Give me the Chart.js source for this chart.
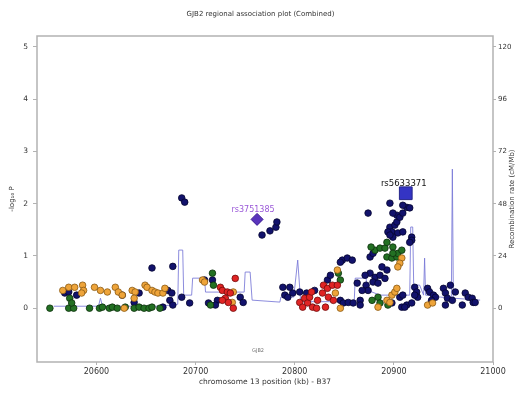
<!DOCTYPE html>
<html>
<head>
<meta charset="utf-8">
<script src="https://cdn.jsdelivr.net/npm/chart.js@4.4.0/dist/chart.umd.min.js"></script>
<style>
  html, body { margin: 0; padding: 0; background: #fff; }
  #wrap { width: 521px; height: 394px; }
</style>
</head>
<body>
<div id="wrap"><canvas id="assoc_plot" width="521" height="394"></canvas></div>
<script>
// positions in kb (chr13, B37), values are -log10 P
var navyPos = [20568, 20572, 20580, 20626, 20638, 20643, 20656, 20677, 20672, 20676, 20674, 20667, 20677, 20686, 20694,
    20686, 20689, 20709, 20717, 20722, 20713, 20720, 20745, 20748, 20767, 20775, 20781, 20782,
    20788, 20795, 20790, 20793, 20798, 20805, 20812, 20820, 20833, 20836, 20848, 20853, 20858, 20846,
    20846, 20849, 20854, 20859, 20866, 20866, 20874, 20876, 20879, 20876, 20881, 20886, 20879, 20884,
    20891, 20893, 20888, 20872, 20874, 20863, 20868, 20871, 20898, 20906, 20909, 20913, 20918, 20908, 20911,
    20896, 20898, 20894, 20901, 20903, 20904, 20899, 20909, 20896, 20903, 20906, 20896, 20899, 20909,
    20913, 20916, 20909, 20918, 20918, 20916, 20921, 20923, 20924, 20921, 20934, 20936, 20940, 20942,
    20938, 20950, 20952, 20957, 20954, 20959, 20962, 20952, 20969, 20972, 20975, 20979, 20980, 20982];
var navyP = [0.29, 0.31, 0.25, 0.25, 0.11, 0.29, 0.77, 0.80, 0.34, 0.29, 0.15, 0.02, 0.06, 0.21, 0.10,
    2.11, 2.03, 0.54, 0.54, 0.15, 0.10, 0.06, 0.21, 0.11, 1.40, 1.48, 1.55, 1.65,
    0.40, 0.40, 0.25, 0.21, 0.29, 0.31, 0.29, 0.34, 0.54, 0.63, 0.92, 0.96, 0.92, 0.88,
    0.15, 0.10, 0.11, 0.10, 0.15, 0.06, 1.82, 0.98, 1.05, 0.67, 0.59, 0.63, 0.50, 0.48,
    0.57, 0.73, 0.79, 0.44, 0.34, 0.48, 0.34, 0.63, 0.10, 0.21, 0.25, 0.06, 0.10, 0.02, 0.02,
    1.55, 1.46, 1.46, 1.59, 1.65, 1.44, 1.36, 1.46, 1.40, 1.78, 1.74, 2.01, 1.82, 1.82,
    1.93, 1.92, 1.97, 1.36, 1.30, 1.26, 0.40, 0.31, 0.21, 0.25, 0.38, 0.31, 0.25, 0.21,
    0.15, 0.38, 0.29, 0.44, 0.19, 0.15, 0.31, 0.06, 0.06, 0.29, 0.21, 0.19, 0.11, 0.11];

var greenPos = [20553, 20572, 20577, 20593, 20603, 20606, 20613, 20616, 20621, 20629, 20638, 20643, 20648, 20653,
    20656, 20664, 20573, 20575, 20717, 20718, 20715, 20844, 20846, 20884, 20886, 20894, 20878,
    20881, 20886, 20891, 20893, 20899, 20893, 20898, 20903, 20904, 20908, 20899, 20877];
var greenP = [0.00, 0.00, 0.00, 0.00, 0.00, 0.02, 0.00, 0.02, 0.00, 0.02, 0.00, 0.02, 0.00, 0.00,
    0.02, 0.00, 0.19, 0.10, 0.67, 0.44, 0.06, 0.67, 0.54, 0.21, 0.10, 0.06, 0.15,
    1.11, 1.15, 1.15, 1.26, 1.17, 0.98, 0.96, 0.98, 1.05, 1.11, 1.05, 1.17];

var orangePos = [20566, 20572, 20578, 20586, 20587, 20585, 20598, 20604, 20611, 20619, 20622, 20626, 20636,
    20639, 20638, 20649, 20651, 20656, 20659, 20662, 20667, 20669, 20628, 20707, 20709, 20738, 20737,
    20843, 20846, 20841, 20884, 20893, 20896, 20898, 20901, 20903, 20908, 20906, 20904, 20934, 20939];
var orangeP = [0.34, 0.40, 0.40, 0.44, 0.34, 0.29, 0.40, 0.34, 0.31, 0.40, 0.31, 0.25, 0.34,
    0.31, 0.19, 0.44, 0.40, 0.34, 0.31, 0.29, 0.29, 0.38, 0.00, 0.54, 0.50, 0.31, 0.11,
    0.73, 0.00, 0.29, 0.02, 0.15, 0.11, 0.25, 0.31, 0.38, 0.96, 0.86, 0.79, 0.06, 0.10];

var redPos = [20725, 20727, 20732, 20735, 20730, 20733, 20727, 20738, 20740, 20805, 20808, 20810, 20813,
    20815, 20817, 20818, 20822, 20823, 20828, 20829, 20831, 20833, 20834, 20838, 20839, 20843];
var redP = [0.40, 0.34, 0.31, 0.29, 0.19, 0.11, 0.15, 0.00, 0.57, 0.11, 0.02, 0.19, 0.10,
    0.21, 0.31, 0.02, 0.00, 0.15, 0.29, 0.44, 0.02, 0.38, 0.21, 0.44, 0.15, 0.44];

// labelled SNPs
var leadSnp = ['rs3751385'];
var leadPos = [20762];
var leadP = [1.70];
var topSnp = ['rs5633371'];
var topPos = [20912];
var topP = [2.20];

// recombination rate, cM/Mb
var recombPos = [20557, 20602, 20604, 20606, 20664, 20682, 20683, 20687, 20688, 20696, 20697, 20709, 20710,
    20749, 20750, 20755, 20757, 20785, 20786, 20799, 20803, 20806, 20860, 20861, 20872, 20873, 20886,
    20916, 20917, 20919, 20920, 20926, 20930, 20931, 20932, 20947, 20958, 20959, 20960, 20987];
var recombRate = [0.9, 0.9, 4.6, 0.9, 0.9, 1.8, 26.7, 26.7, 6.0, 6.0, 13.8, 13.8, 7.4,
    7.4, 16.6, 16.6, 3.7, 2.8, 5.1, 5.1, 22.1, 3.0, 3.0, 13.8, 13.8, 8.3, 6.0,
    6.0, 37.3, 37.3, 10.6, 10.6, 6.0, 23.0, 6.0, 5.1, 4.6, 63.9, 4.6, 3.7];

var geneName = ['GJB2'];
var genePos = [20763];

var xTicks = [20600, 20700, 20800, 20900, 21000];
var yTicks = [0, 1, 2, 3, 4, 5];
var y2Ticks = [0, 24, 48, 72, 96, 120];

var FONT = '"DejaVu Sans", sans-serif';

function pts(xs, ys) {
    return xs.map(function (x, i) { return { x: x, y: ys[i] }; });
}

function snpSet(xs, ys, fill, edge, order) {
    return {
        data: pts(xs, ys),
        backgroundColor: fill,
        borderColor: edge,
        borderWidth: 0.8,
        pointRadius: 3.3,
        order: order
    };
}

var extras = {
    id: 'extras',
    afterDatasetsDraw: function (chart) {
        var ctx = chart.ctx, a = chart.chartArea;
        var xs = chart.scales.x, ys = chart.scales.y;
        ctx.save();
        ctx.strokeStyle = '#b2b2b2';
        ctx.lineWidth = 1.5;
        ctx.strokeRect(a.left, a.top, a.right - a.left, a.bottom - a.top);

        ctx.textAlign = 'center';
        ctx.textBaseline = 'bottom';
        ctx.font = '8px ' + FONT;
        ctx.fillStyle = '#9a58d8';
        ctx.fillText(leadSnp[0], xs.getPixelForValue(leadPos[0]) - 4, ys.getPixelForValue(leadP[0]) - 5);
        ctx.font = '8.5px ' + FONT;
        ctx.fillStyle = '#111';
        ctx.fillText(topSnp[0], xs.getPixelForValue(topPos[0]) - 2, ys.getPixelForValue(topP[0]) - 5);

        ctx.font = '5px ' + FONT;
        ctx.fillStyle = '#777';
        ctx.textBaseline = 'middle';
        ctx.fillText(geneName[0], xs.getPixelForValue(genePos[0]), ys.getPixelForValue(-0.82));

        // right axis title reads bottom to top
        ctx.translate(512, (a.top + a.bottom) / 2);
        ctx.rotate(-Math.PI / 2);
        ctx.font = '7px ' + FONT;
        ctx.fillStyle = '#333';
        ctx.fillText('Recombination rate (cM/Mb)', 0, 0);
        ctx.restore();
    }
};

new Chart(document.getElementById('assoc_plot').getContext('2d'), {
    type: 'scatter',
    data: {
        datasets: [
            {
                data: pts(recombPos, recombRate),
                yAxisID: 'y2',
                showLine: true,
                borderColor: 'rgba(120, 120, 215, 0.85)',
                borderWidth: 1,
                pointRadius: 0,
                order: 10
            },
            snpSet(navyPos, navyP, '#12126c', '#05052e', 5),
            snpSet(greenPos, greenP, '#237023', '#0c2e0c', 4),
            snpSet(orangePos, orangeP, '#eea43a', '#8a5a14', 3),
            snpSet(redPos, redP, '#e02424', '#6e0c0c', 2),
            {
                data: pts(leadPos, leadP),
                pointStyle: 'rectRot',
                pointRadius: 6,
                backgroundColor: '#5a34bc',
                borderColor: '#3a1a90',
                borderWidth: 1,
                order: 1
            },
            {
                data: pts(topPos, topP),
                pointStyle: 'rect',
                pointRadius: 9,
                backgroundColor: '#3434c4',
                borderColor: '#26268a',
                borderWidth: 1,
                order: 0
            }
        ]
    },
    options: {
        responsive: false,
        animation: false,
        devicePixelRatio: 1,
        layout: { padding: 0 },
        plugins: {
            legend: { display: false },
            tooltip: { enabled: false },
            title: {
                display: true,
                text: 'GJB2 regional association plot (Combined)',
                color: '#333',
                font: { family: FONT, size: 7, weight: 'normal' },
                padding: { top: 10, bottom: 17.6 }
            }
        },
        scales: {
            x: {
                type: 'linear',
                min: 20540,
                max: 21000,
                afterFit: function (s) { s.height = 32; },
                afterBuildTicks: function (s) { s.ticks = xTicks.map(function (v) { return { value: v }; }); },
                ticks: {
                    color: '#333',
                    font: { family: FONT, size: 8 },
                    padding: 2,
                    maxRotation: 0,
                    callback: function (v) { return String(v); }
                },
                grid: { drawOnChartArea: false, tickLength: 3, color: '#b2b2b2' },
                border: { display: false },
                title: {
                    display: true,
                    text: 'chromosome 13 position (kb) - B37',
                    color: '#333',
                    font: { family: FONT, size: 7.5 },
                    padding: { top: 0, bottom: 7 }
                }
            },
            y: {
                position: 'left',
                min: -1.03,
                max: 5.21,
                afterFit: function (s) { s.width = 37; },
                afterBuildTicks: function (s) { s.ticks = yTicks.map(function (v) { return { value: v }; }); },
                ticks: { color: '#333', font: { family: FONT, size: 7.5 }, padding: 5 },
                grid: { drawOnChartArea: false, tickLength: 4, color: '#b2b2b2' },
                border: { display: false },
                title: {
                    display: true,
                    text: '-log\u2081\u2080 P',
                    color: '#333',
                    font: { family: FONT, size: 7 },
                    padding: { top: 8, bottom: 0 }
                }
            },
            y2: {
                position: 'right',
                min: -1.03 * 24,
                max: 5.21 * 24,
                afterFit: function (s) { s.width = 28; },
                afterBuildTicks: function (s) { s.ticks = y2Ticks.map(function (v) { return { value: v }; }); },
                ticks: { color: '#333', font: { family: FONT, size: 7 }, padding: 2 },
                grid: { drawOnChartArea: false, tickLength: 3, color: '#b2b2b2' },
                border: { display: false }
            }
        }
    },
    plugins: [extras]
});
</script>
</body>
</html>
